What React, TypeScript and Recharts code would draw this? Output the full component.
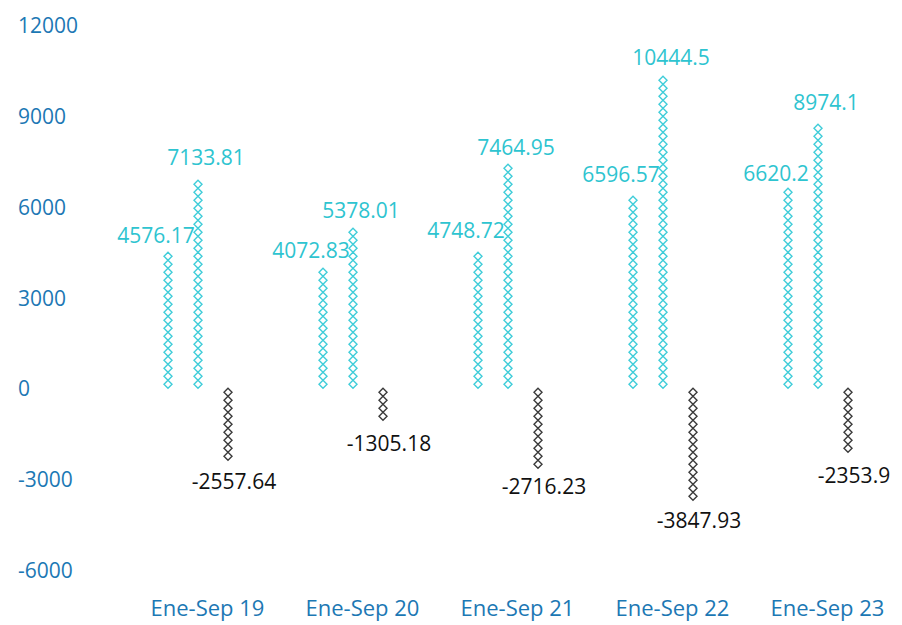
import { Bar, BarChart, LabelList, XAxis, YAxis } from "recharts"

const categories = ["Ene-Sep 19", "Ene-Sep 20", "Ene-Sep 21", "Ene-Sep 22", "Ene-Sep 23"]
const seriesA = [4576.17, 4072.83, 4748.72, 6596.57, 6620.2]
const seriesB = [7133.81, 5378.01, 7464.95, 10444.5, 8974.1]
const seriesC = [-2557.64, -1305.18, -2716.23, -3847.93, -2353.9]
const yTicks = [-6000, -3000, 0, 3000, 6000, 9000, 12000]

const TEAL = "#3fcdd9"
const TEAL_TEXT = "#2ec4d0"
const DARK = "#3a3a3a"
const AXIS_BLUE = "#1c78b4"
const FONT = "'Open Sans', sans-serif"

const data = categories.map((name, i) => ({
  name,
  a: seriesA[i],
  b: seriesB[i],
  c: seriesC[i],
}))

// repeat small outlined diamonds along the bar, starting from the zero line
function diamondShape(color: string) {
  return (props: any) => {
    const { x, y, width, height, value } = props
    const top = Math.min(y, y + height)
    const h = Math.abs(height)
    const cx = x + width / 2
    const step = 8
    const n = Math.floor(h / step)
    const items = []
    for (let i = 0; i < n; i++) {
      const cy = value >= 0 ? top + h - step / 2 - i * step : top + step / 2 + i * step
      items.push(
        <path
          key={i}
          d={`M${cx},${cy - 4}L${cx + 4},${cy}L${cx},${cy + 4}L${cx - 4},${cy}Z`}
          fill="#fff"
          stroke={color}
          strokeWidth={1.4}
        />,
      )
    }
    return <g>{items}</g>
  }
}

function valueLabel(color: string, dx: number) {
  return (props: any) => {
    const { x, y, width, height, value } = props
    const top = Math.min(y, y + height)
    const bottom = Math.max(y, y + height)
    const ly = value >= 0 ? top - 15 : bottom + 15
    return (
      <text
        x={x + width / 2 + dx}
        y={ly}
        textAnchor="middle"
        dominantBaseline="central"
        fontFamily={FONT}
        fontSize={21}
        fill={color}
      >
        {value}
      </text>
    )
  }
}

function YTick(props: any) {
  const { y, payload } = props
  return (
    <text x={10} y={y} dominantBaseline="central" fontFamily={FONT} fontSize={21} fill={AXIS_BLUE}>
      {payload.value}
    </text>
  )
}

function XTick(props: any) {
  const { x, y, payload } = props
  return (
    <text
      x={x + 10}
      y={y + 29}
      textAnchor="middle"
      dominantBaseline="central"
      fontFamily={FONT}
      fontSize={22}
      fill={AXIS_BLUE}
    >
      {payload.value}
    </text>
  )
}

export default function App() {
  return (
    <div style={{ width: 894, height: 617, background: "#fff" }}>
      <BarChart
        width={894}
        height={617}
        data={data}
        margin={{ top: 17, right: 7, bottom: 0, left: 0 }}
        barSize={8}
        barGap={22}
      >
        <XAxis
          dataKey="name"
          height={55}
          axisLine={false}
          tickLine={false}
          tick={<XTick />}
          interval={0}
        />
        <YAxis
          width={112}
          domain={[-6000, 12000]}
          ticks={yTicks}
          axisLine={false}
          tickLine={false}
          tick={<YTick />}
          interval={0}
        />
        <Bar dataKey="a" isAnimationActive={false} shape={diamondShape(TEAL)}>
          <LabelList dataKey="a" content={valueLabel(TEAL_TEXT, -12)} />
        </Bar>
        <Bar dataKey="b" isAnimationActive={false} shape={diamondShape(TEAL)}>
          <LabelList dataKey="b" content={valueLabel(TEAL_TEXT, 8)} />
        </Bar>
        <Bar dataKey="c" isAnimationActive={false} shape={diamondShape(DARK)}>
          <LabelList dataKey="c" content={valueLabel("#111", 6)} />
        </Bar>
      </BarChart>
    </div>
  )
}
